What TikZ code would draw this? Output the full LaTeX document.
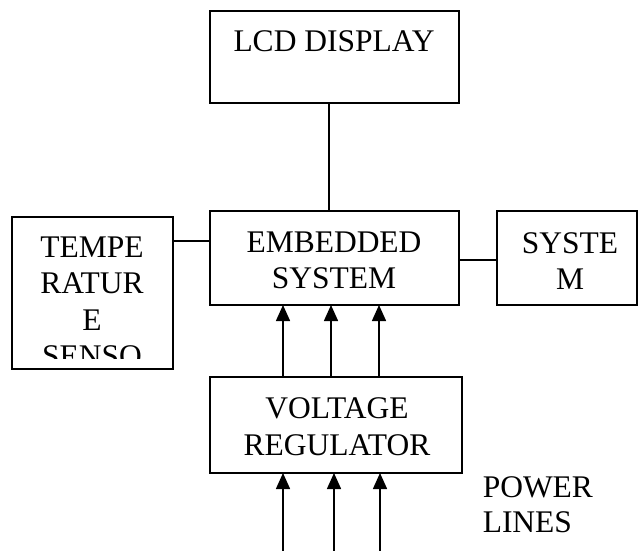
\documentclass[tikz,border=0pt]{standalone}
\usepackage{fontspec}
\setmainfont{Liberation Serif}
\usetikzlibrary{arrows.meta}
\begin{document}
\begin{tikzpicture}[x=1pt,y=-1pt, line width=1.5pt,
  blockbox/.style={draw, rectangle, inner sep=0pt, outer sep=0pt, anchor=north west},
  lbl/.style={anchor=base, inner sep=0pt, font=\fontsize{31.5}{36}\selectfont},
  arr/.style={-{Triangle[length=16pt,width=14pt]}}]
\useasboundingbox (0,0) rectangle (638,551);
% boxes
\node[blockbox, minimum width=249pt, minimum height=92pt] (lcd) at (210,11) {};
\node[blockbox, minimum width=249pt, minimum height=94pt] (emb) at (210,211) {};
\node[blockbox, minimum width=161pt, minimum height=152pt] (temp) at (12,217) {};
\node[blockbox, minimum width=140pt, minimum height=94pt] (sys) at (497,211) {};
\node[blockbox, minimum width=252pt, minimum height=96pt] (vr) at (210,377) {};
% texts
\node[lbl] (tlcd) at (334,52) {LCD DISPLAY};
\node[lbl] (temb1) at (334,252) {EMBEDDED};
\node[lbl] (temb2) at (334,288) {SYSTEM};
\begin{scope}
\clip (13,218) rectangle (172,358);
\node[lbl] (tt1) at (92,257) {TEMPE};
\node[lbl] (tt2) at (92,293) {RATUR};
\node[lbl] (tt3) at (92,330) {E};
\node[lbl] (tt4) at (92,366) {SENSO};
\end{scope}
\node[lbl] (ts1) at (570,253) {SYSTE};
\node[lbl] (ts2) at (570,289) {M};
\node[lbl] (tv1) at (337,418) {VOLTAGE};
\node[lbl] (tv2) at (337,455) {REGULATOR};
\node[lbl, anchor=base west] (tp1) at (482,497) {POWER};
\node[lbl, anchor=base west] (tp2) at (482,532) {LINES};
% helper coordinates
\coordinate (xl) at (329,0);
\coordinate (yt) at (0,241);
\coordinate (ys) at (0,260);
\coordinate (a1) at (283,0);
\coordinate (a2) at (331,0);
\coordinate (a3) at (379,0);
\coordinate (b1) at (283,552);
\coordinate (b2) at (334,552);
\coordinate (b3) at (380,552);
% connectors
\draw (lcd.south -| xl) -- (emb.north -| xl);
\draw (temp.east |- yt) -- (emb.west |- yt);
\draw (emb.east |- ys) -- (sys.west |- ys);
\draw[arr] (vr.north -| a1) -- (emb.south -| a1);
\draw[arr] (vr.north -| a2) -- (emb.south -| a2);
\draw[arr] (vr.north -| a3) -- (emb.south -| a3);
\draw[arr] (b1) -- (vr.south -| b1);
\draw[arr] (b2) -- (vr.south -| b2);
\draw[arr] (b3) -- (vr.south -| b3);
\end{tikzpicture}
\end{document}
